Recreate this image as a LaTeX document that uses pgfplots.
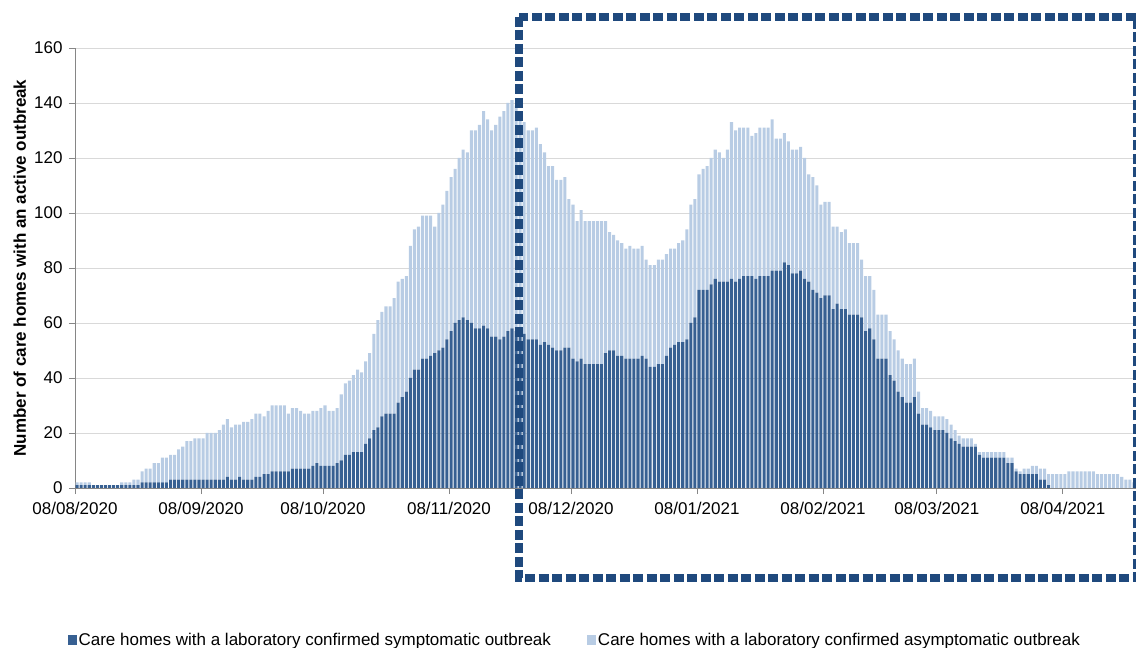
\documentclass[border=0pt]{standalone}
\usepackage{pgfplots}
\pgfplotsset{compat=1.18}
\usepackage{pgfplotstable}
\usepackage{fontspec}
\setmainfont{Liberation Sans}
\definecolor{symc}{RGB}{55,96,146}
\definecolor{asymc}{RGB}{184,204,228}
\definecolor{boxc}{RGB}{31,73,125}
\definecolor{axc}{RGB}{134,134,134}
\definecolor{gridc}{RGB}{217,217,217}

\pgfplotstableread[row sep=\\]{
x s a\\
0 1 1\\ 1 1 1\\ 2 1 1\\ 3 1 1\\ 4 1 0\\ 5 1 0\\ 6 1 0\\ 7 1 0\\ 8 1 0\\ 9 1 0\\
10 1 0\\ 11 1 1\\ 12 1 1\\ 13 1 1\\ 14 1 2\\ 15 1 2\\ 16 2 4\\ 17 2 5\\ 18 2 5\\ 19 2 7\\
20 2 7\\ 21 2 9\\ 22 2 9\\ 23 3 9\\ 24 3 9\\ 25 3 11\\ 26 3 12\\ 27 3 14\\ 28 3 14\\ 29 3 15\\
30 3 15\\ 31 3 15\\ 32 3 17\\ 33 3 17\\ 34 3 17\\ 35 3 18\\ 36 3 20\\ 37 4 21\\ 38 3 19\\ 39 3 20\\
40 4 19\\ 41 3 21\\ 42 3 21\\ 43 3 22\\ 44 4 23\\ 45 4 23\\ 46 5 21\\ 47 5 23\\ 48 6 24\\ 49 6 24\\
50 6 24\\ 51 6 24\\ 52 6 21\\ 53 7 22\\ 54 7 22\\ 55 7 21\\ 56 7 20\\ 57 7 20\\ 58 8 20\\ 59 9 19\\
60 8 21\\ 61 8 22\\ 62 8 20\\ 63 8 20\\ 64 9 20\\ 65 10 24\\ 66 12 26\\ 67 12 27\\ 68 13 28\\ 69 13 30\\
70 13 29\\ 71 16 30\\ 72 18 31\\ 73 21 35\\ 74 22 39\\ 75 26 38\\ 76 27 39\\ 77 27 39\\ 78 27 42\\ 79 31 44\\
80 33 43\\ 81 35 42\\ 82 40 48\\ 83 43 51\\ 84 43 52\\ 85 47 52\\ 86 47 52\\ 87 48 51\\ 88 49 46\\ 89 50 50\\
90 51 52\\ 91 54 54\\ 92 57 56\\ 93 60 56\\ 94 61 59\\ 95 62 61\\ 96 61 61\\ 97 60 70\\ 98 58 72\\ 99 58 74\\
100 59 78\\ 101 58 76\\ 102 55 75\\ 103 55 77\\ 104 54 81\\ 105 55 82\\ 106 57 83\\ 107 58 83\\ 108 57 82\\ 109 57 79\\
110 56 77\\ 111 54 76\\ 112 54 76\\ 113 54 77\\ 114 52 73\\ 115 53 69\\ 116 52 65\\ 117 51 66\\ 118 50 62\\ 119 50 62\\
120 51 62\\ 121 51 54\\ 122 47 56\\ 123 46 51\\ 124 47 54\\ 125 45 52\\ 126 45 52\\ 127 45 52\\ 128 45 52\\ 129 45 52\\
130 49 48\\ 131 50 43\\ 132 50 42\\ 133 48 42\\ 134 48 41\\ 135 47 40\\ 136 47 41\\ 137 47 40\\ 138 47 40\\ 139 48 40\\
140 47 36\\ 141 44 37\\ 142 44 37\\ 143 45 38\\ 144 45 38\\ 145 48 37\\ 146 51 36\\ 147 52 35\\ 148 53 36\\ 149 53 37\\
150 54 40\\ 151 60 43\\ 152 62 43\\ 153 72 42\\ 154 72 44\\ 155 72 45\\ 156 74 46\\ 157 76 47\\ 158 75 47\\ 159 75 45\\
160 75 48\\ 161 76 57\\ 162 75 55\\ 163 76 55\\ 164 77 54\\ 165 77 54\\ 166 77 51\\ 167 76 53\\ 168 77 54\\ 169 77 54\\
170 77 54\\ 171 79 55\\ 172 79 48\\ 173 79 48\\ 174 82 47\\ 175 81 45\\ 176 78 45\\ 177 78 45\\ 178 79 45\\ 179 76 44\\
180 75 39\\ 181 72 41\\ 182 71 39\\ 183 69 34\\ 184 70 34\\ 185 70 34\\ 186 65 30\\ 187 67 28\\ 188 65 28\\ 189 65 29\\
190 63 26\\ 191 63 26\\ 192 63 26\\ 193 62 21\\ 194 57 20\\ 195 58 19\\ 196 54 18\\ 197 47 16\\ 198 47 16\\ 199 47 16\\
200 41 16\\ 201 39 15\\ 202 35 15\\ 203 33 14\\ 204 31 14\\ 205 31 14\\ 206 33 14\\ 207 27 8\\ 208 23 6\\ 209 23 6\\
210 22 6\\ 211 21 5\\ 212 21 5\\ 213 21 5\\ 214 20 5\\ 215 18 5\\ 216 17 4\\ 217 16 3\\ 218 15 3\\ 219 15 3\\
220 15 3\\ 221 15 1\\ 222 12 1\\ 223 11 2\\ 224 11 2\\ 225 11 2\\ 226 11 2\\ 227 11 2\\ 228 11 2\\ 229 9 2\\
230 9 2\\ 231 6 1\\ 232 5 1\\ 233 5 2\\ 234 5 2\\ 235 5 3\\ 236 5 3\\ 237 3 4\\ 238 3 4\\ 239 1 4\\
240 0 5\\ 241 0 5\\ 242 0 5\\ 243 0 5\\ 244 0 6\\ 245 0 6\\ 246 0 6\\ 247 0 6\\ 248 0 6\\ 249 0 6\\
250 0 6\\ 251 0 5\\ 252 0 5\\ 253 0 5\\ 254 0 5\\ 255 0 5\\ 256 0 5\\ 257 0 4\\ 258 0 3\\ 259 0 3\\
260 0 2\\
}\data

\begin{document}
\begin{tikzpicture}
\useasboundingbox (0,0) rectangle (1136pt,648pt);
\begin{axis}[
  at={(75pt,160pt)}, anchor=south west, scale only axis,
  width=1061pt, height=440pt,
  ybar stacked, bar width=0.75,
  xmin=-0.5, xmax=260.5, ymin=0, ymax=160, enlargelimits=false,
  axis x line*=bottom, axis y line*=left,
  axis line style={draw=axc, line width=0.8pt, -},
  ytick={0,20,...,160},
  xtick={-0.5,30.5,60.5,91.5,121.5,152.5,183.5,211.5,242.5},
  xticklabels={08/08/2020,08/09/2020,08/10/2020,08/11/2020,08/12/2020,08/01/2021,08/02/2021,08/03/2021,08/04/2021},
  ymajorgrids, grid style={draw=gridc, line width=0.8pt},
  tick align=outside, major tick length=6pt,
  tick style={draw=axc, line width=0.8pt},
  ticklabel style={font=\fontsize{17}{20}\selectfont},
  xticklabel style={yshift=-5pt},
  yticklabel style={xshift=-3pt},
  /pgf/number format/assume math mode=true,
  ylabel={Number of care homes with an active outbreak},
  ylabel style={font=\bfseries\fontsize{17}{20}\selectfont, at={(axis description cs:-0.052,0.5)}, anchor=center},
  legend style={at={(axis description cs:0.471,-0.3455)}, anchor=center, draw=none, fill=none,
    legend columns=2, font=\fontsize{17}{20}\selectfont,
    /tikz/every even column/.append style={column sep=34pt}},
  legend image code/.code={\fill[#1] (-2pt,-5pt) rectangle (7pt,5pt);},
]
\addplot[fill=symc, draw=none] table[x=x,y=s]{\data};
\addlegendentry{Care homes with a laboratory confirmed symptomatic outbreak}
\addplot[fill=asymc, draw=none] table[x=x,y=a]{\data};
\addlegendentry{Care homes with a laboratory confirmed asymptomatic outbreak}
\end{axis}
\draw[boxc, line width=8pt, dash pattern=on 10pt off 3.5pt] (519pt,631pt) rectangle (1137pt,70pt);
\end{tikzpicture}
\end{document}
